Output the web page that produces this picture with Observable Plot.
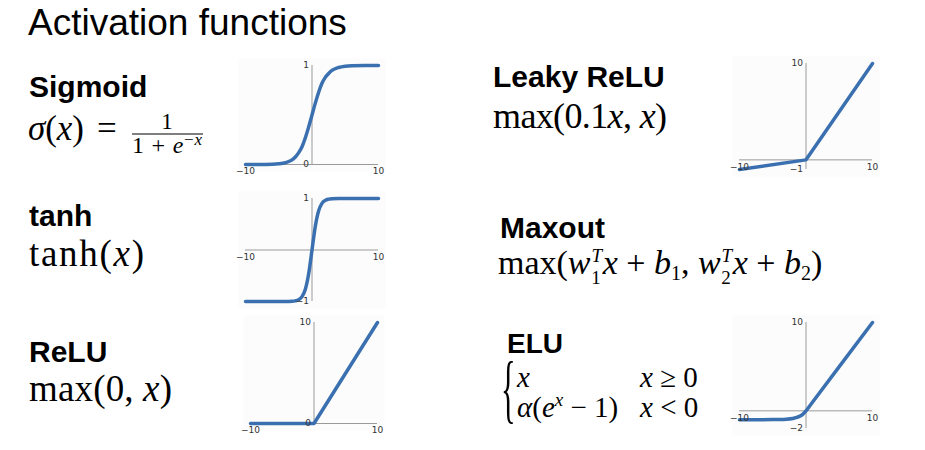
<!DOCTYPE html>
<html><head><meta charset="utf-8">
<script src="https://cdn.jsdelivr.net/npm/d3@7"></script>
<script src="https://cdn.jsdelivr.net/npm/@observablehq/plot@0.6"></script>
<style>
html,body{margin:0;padding:0;background:#fff;}
#page{position:relative;width:925px;height:450px;overflow:hidden;background:#fff;}
#page > svg.txt{position:absolute;left:0;top:0;}
.chart{position:absolute;}
.sans{font-family:"Liberation Sans",Arial,sans-serif;}
.math{font-family:"Liberation Serif","Times New Roman",serif;white-space:pre;}
</style></head><body>
<div id="page"></div>
<script>
// ---- data ----
const sigmoidX = [-10,-8,-6,-5,-4,-3,-2.5,-2,-1.5,-1,-0.5,0,0.5,1,1.5,2,2.5,3,4,5,6,8,10];
const sigmoidY = [0.00005,0.0003,0.0025,0.0067,0.018,0.047,0.076,0.12,0.18,0.27,0.38,0.5,0.62,0.73,0.82,0.88,0.92,0.95,0.98,0.993,0.9975,0.9997,0.99995];
const tanhX = [-10,-4,-3,-2.5,-2,-1.5,-1,-0.5,0,0.5,1,1.5,2,2.5,3,4,10];
const tanhY = [-1,-0.999,-0.995,-0.987,-0.964,-0.905,-0.762,-0.462,0,0.462,0.762,0.905,0.964,0.987,0.995,0.999,1];
const reluX = [-10,0,10];
const reluY = [0,0,10];
const leakyX = [-10,0,10];
const leakyY = [-1,0,10];
const eluX = [-10,-5,-4,-3,-2,-1.5,-1,-0.5,0,1,5,10];
const eluY = [-1,-0.993,-0.98,-0.95,-0.865,-0.777,-0.632,-0.393,0,1,5,10];
const xTicks = [-10, 10];
const sigmoidYTicks = [0, 1];
const tanhYTicks = [-1, 1];
const reluYTicks = [0, 10];
const leakyYTicks = [-1, 10];
const eluYTicks = [-2, 10];

const page = document.getElementById("page");

// ---- text layer ----
page.innerHTML = `
<svg class="txt" width="925" height="450" xmlns="http://www.w3.org/2000/svg">
  <text class="sans" x="28" y="35" font-size="37" fill="#000">Activation functions</text>
  <g class="sans" font-weight="bold" font-size="30" fill="#000">
    <text x="29" y="97">Sigmoid</text>
    <text x="29" y="226">tanh</text>
    <text x="29" y="362">ReLU</text>
    <text x="493" y="87">Leaky ReLU</text>
    <text x="500" y="238">Maxout</text>
    <text x="507" y="353" font-size="28">ELU</text>
  </g>
  <g class="math" fill="#000">
    <text x="28" y="140" font-size="35" textLength="56" lengthAdjust="spacingAndGlyphs"><tspan font-style="italic">σ</tspan>(<tspan font-style="italic">x</tspan>)</text>
    <text x="97" y="140" font-size="35">=</text>
    <text x="167" y="129" font-size="23" text-anchor="middle">1</text>
    <line x1="132" x2="203" y1="134" y2="134" stroke="#000" stroke-width="1.2"/>
    <text x="132" y="153" font-size="24" textLength="70" lengthAdjust="spacing">1 + <tspan font-style="italic">e</tspan><tspan dy="-8" font-size="17">−<tspan font-style="italic">x</tspan></tspan></text>

    <text x="29" y="266" font-size="37" textLength="115" lengthAdjust="spacing">tanh(<tspan font-style="italic">x</tspan>)</text>
    <text x="29" y="401" font-size="37" textLength="143" lengthAdjust="spacing">max(0, <tspan font-style="italic">x</tspan>)</text>
    <text x="493" y="128" font-size="36" textLength="174" lengthAdjust="spacing">max(0.1<tspan font-style="italic">x</tspan>, <tspan font-style="italic">x</tspan>)</text>

    <text x="498" y="274" font-size="34">max(<tspan font-style="italic">w</tspan><tspan font-size="19" font-style="italic" dx="1" dy="-12">T</tspan><tspan font-size="19" dx="-11" dy="22">1</tspan><tspan dy="-10" dx="2"><tspan font-style="italic">x</tspan> + <tspan font-style="italic">b</tspan></tspan><tspan font-size="20" dy="6">1</tspan><tspan dy="-6">, <tspan font-style="italic">w</tspan></tspan><tspan font-size="19" font-style="italic" dx="1" dy="-12">T</tspan><tspan font-size="19" dx="-11" dy="22">2</tspan><tspan dy="-10" dx="2"><tspan font-style="italic">x</tspan> + <tspan font-style="italic">b</tspan></tspan><tspan font-size="20" dy="6">2</tspan><tspan dy="-6">)</tspan></text>

    <text transform="translate(501,414) scale(0.4,1)" x="0" y="0" font-size="76">{</text>
    <text x="517" y="387" font-size="29" font-style="italic">x</text>
    <text x="640" y="387" font-size="29"><tspan font-style="italic">x</tspan> ≥ 0</text>
    <text x="517" y="417" font-size="29"><tspan font-style="italic">α</tspan>(<tspan font-style="italic">e</tspan><tspan font-size="19" font-style="italic" dy="-11">x</tspan><tspan dy="11"> − 1)</tspan></text>
    <text x="640" y="417" font-size="29"><tspan font-style="italic">x</tspan> &lt; 0</text>
  </g>
</svg>`;

// ---- charts ----
const fmt = d => d < 0 ? "\u2212" + Math.abs(d) : String(d);
const LINE = "#3b70b0";
const AXIS = "#9a9a9a";

function panel(xs, ys, yTicks, curve, box) {
  const data = xs.map((x, i) => ({x, y: ys[i]}));
  const yDomain = [yTicks[0], yTicks[1]];
  const chart = Plot.plot({
    width: box.w, height: box.h,
    marginLeft: box.ml, marginRight: box.mr, marginTop: box.mt, marginBottom: box.mb,
    x: {domain: [xTicks[0], xTicks[1]], axis: null},
    y: {domain: yDomain, axis: null},
    style: {background: "transparent", overflow: "visible", fontFamily: "DejaVu Sans"},
    marks: [
      Plot.frame({fill: "#fcfcfc", stroke: null, inset: -7}),
      Plot.ruleY([0], {stroke: AXIS, strokeWidth: 1}),
      Plot.ruleX([0], {stroke: AXIS, strokeWidth: 1}),
      Plot.line(data, {x: "x", y: "y", stroke: LINE, strokeWidth: 3.5, curve}),
      Plot.text(xTicks, {x: d => d, y: () => 0, dy: 7, text: fmt, fontSize: 9, fill: "#333"}),
      Plot.text(yTicks, {x: () => 0, y: d => d, dx: -3, textAnchor: "end", text: fmt, fontSize: 9, fill: "#333"})
    ]
  });
  chart.classList.add("chart");
  chart.style.left = box.left + "px";
  chart.style.top = box.top + "px";
  page.appendChild(chart);
}

panel(sigmoidX, sigmoidY, sigmoidYTicks, "monotone-x", {left: 225, top: 55, w: 170, h: 125, ml: 20, mr: 17, mt: 10, mb: 16});
panel(tanhX, tanhY, tanhYTicks, "monotone-x", {left: 225, top: 185, w: 170, h: 125, ml: 20, mr: 17, mt: 13, mb: 9});
panel(reluX, reluY, reluYTicks, "linear", {left: 230, top: 310, w: 165, h: 130, ml: 20, mr: 18, mt: 12, mb: 17});
panel(leakyX, leakyY, leakyYTicks, "linear", {left: 715, top: 50, w: 180, h: 130, ml: 24, mr: 23, mt: 13, mb: 11});
panel(eluX, eluY, eluYTicks, "monotone-x", {left: 715, top: 305, w: 180, h: 135, ml: 24, mr: 23, mt: 17, mb: 12});
</script>
</body></html>
